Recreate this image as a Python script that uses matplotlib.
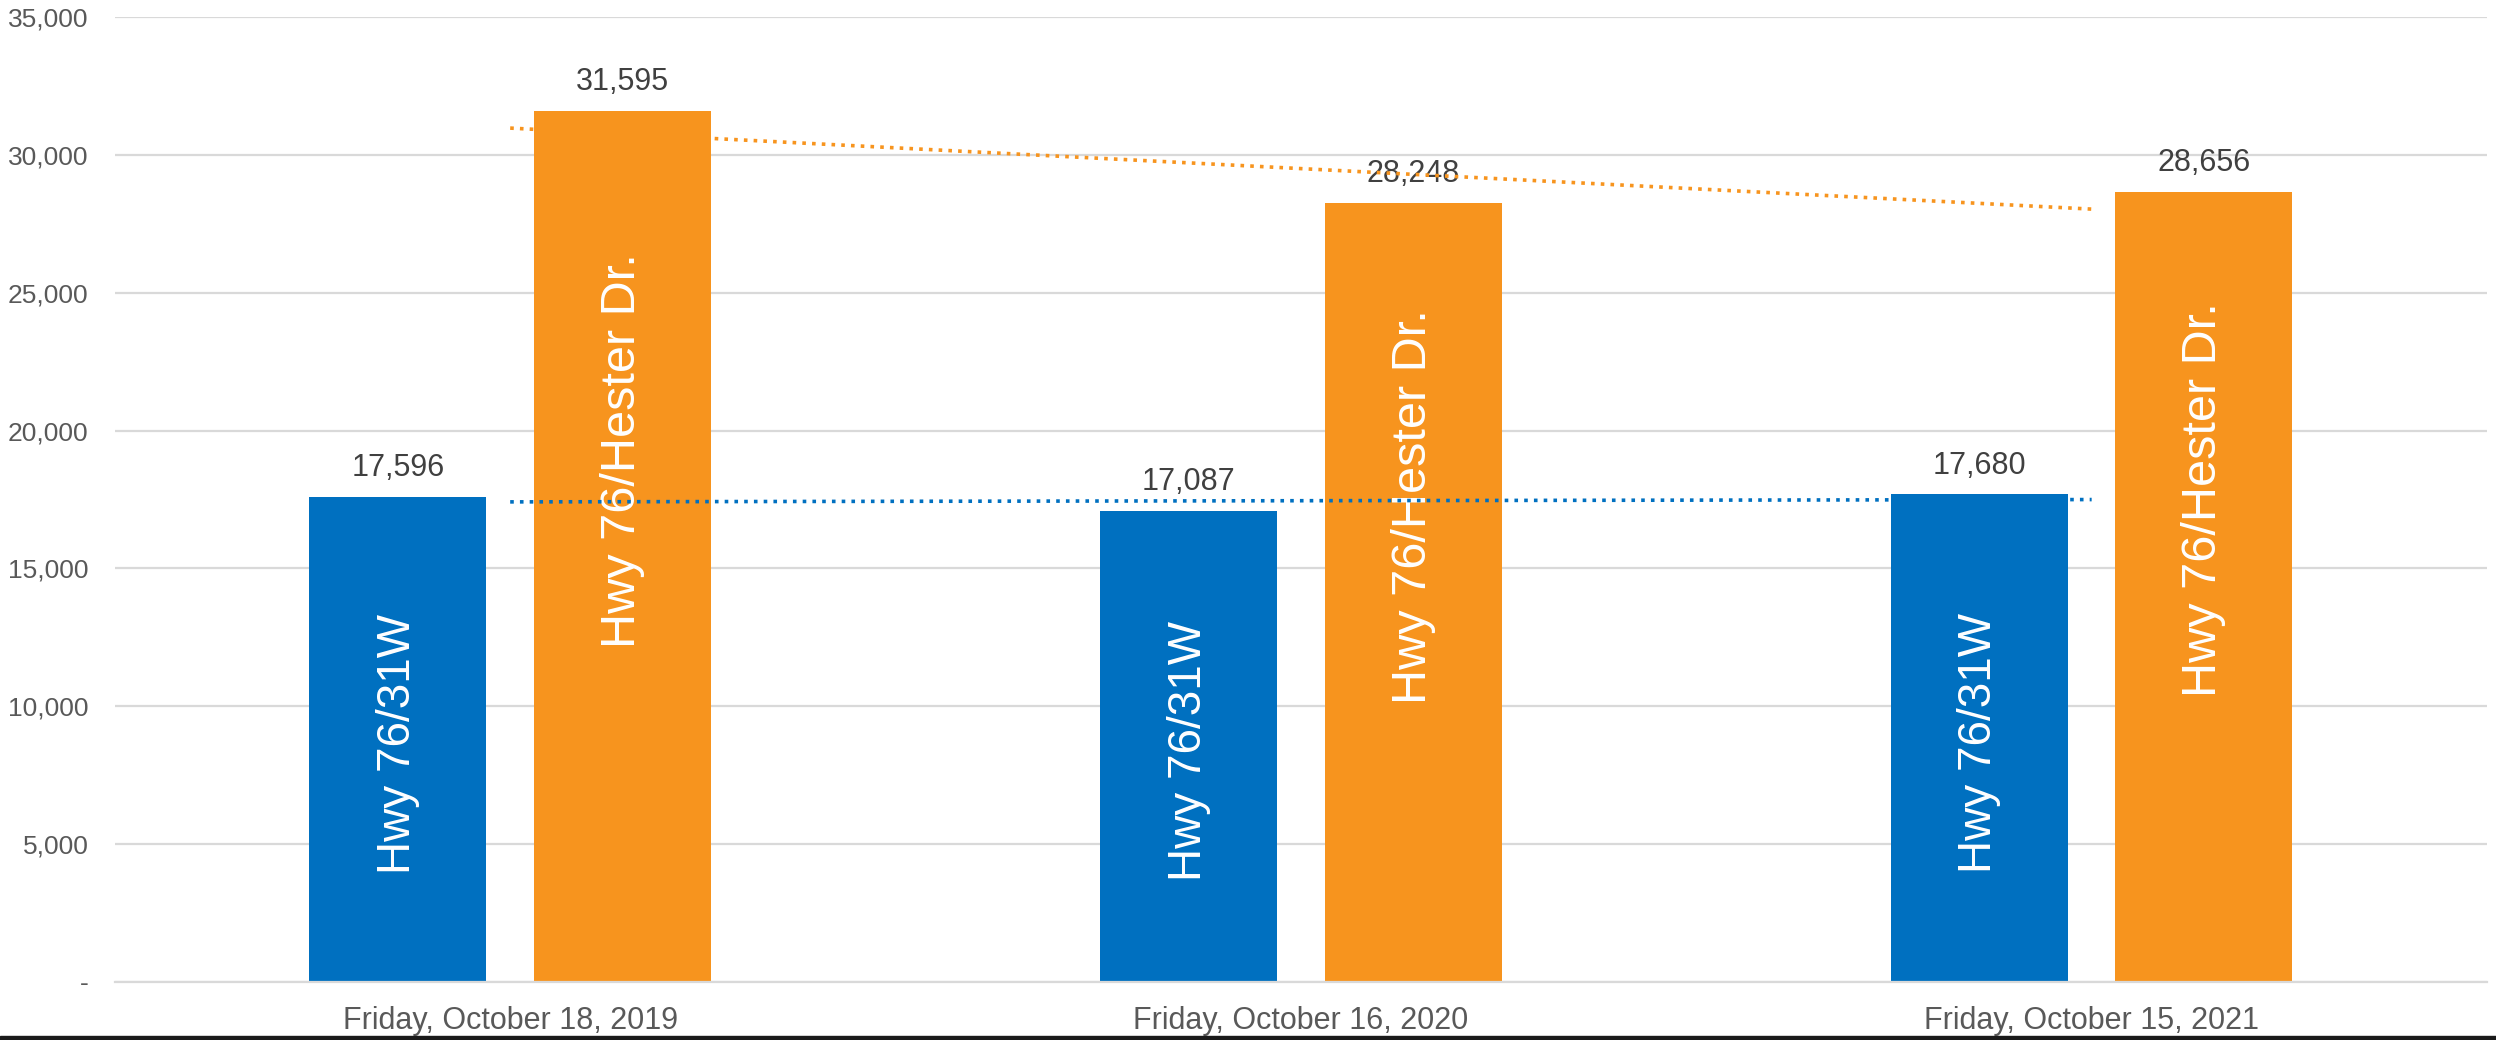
import matplotlib.pyplot as plt
import numpy as np
from matplotlib.ticker import FuncFormatter
from matplotlib.patches import Rectangle

dates = ["Friday, October 18, 2019", "Friday, October 16, 2020", "Friday, October 15, 2021"]
hwy_31w = [17596, 17087, 17680]
hwy_hester = [31595, 28248, 28656]
series_names = ["Hwy 76/31W", "Hwy 76/Hester Dr."]

blue = "#0070C0"
orange = "#F7941E"

plt.rcParams["font.family"] = ["Liberation Sans", "DejaVu Sans"]

fig = plt.figure(figsize=(24.96, 10.4), dpi=100)
ax = fig.add_axes([0.046, 0.0558, 0.9504, 0.9279])

x = np.arange(len(dates))
width = 0.224
offset = 0.142

bars1 = ax.bar(x - offset, hwy_31w, width, color=blue, zorder=2)
bars2 = ax.bar(x + offset, hwy_hester, width, color=orange, zorder=2)

# value labels above bars and series names inside
for bars, vals, name, frac, fs in [(bars1, hwy_31w, series_names[0], 0.49, 33),
                                   (bars2, hwy_hester, series_names[1], 0.61, 35)]:
    for bar, v in zip(bars, vals):
        cx = bar.get_x() + bar.get_width() / 2
        ax.annotate(f"{v:,}", (cx, v), xytext=(0, 10), textcoords="offset points",
                    ha="center", va="bottom", fontsize=22, color="#404040")
        ax.text(cx, v * frac, name, rotation=90, ha="center", va="center",
                fontsize=fs, color="white", zorder=3)

# linear trendlines
for vals, col in [(hwy_31w, blue), (hwy_hester, orange)]:
    k, b = np.polyfit(x, vals, 1)
    ax.plot(x, k * x + b, color=col, lw=2.6, linestyle=(0, (1, 1.7)), zorder=4)

ax.set_xlim(-0.5, 2.5)
ax.set_ylim(0, 35000)
ax.set_yticks(np.arange(0, 35001, 5000))
ax.yaxis.set_major_formatter(FuncFormatter(lambda v, p: "-" if v == 0 else f"{int(v):,}"))
ax.set_xticks(x)
ax.set_xticklabels(dates, fontsize=22, color="#595959")
ax.tick_params(axis="y", labelsize=19, labelcolor="#595959", length=0, pad=19)
ax.tick_params(axis="x", length=0, pad=17)

ax.grid(axis="y", color="#D9D9D9", lw=1.6, zorder=0)
for s in ["top", "right", "left"]:
    ax.spines[s].set_visible(False)
ax.spines["bottom"].set_color("#D9D9D9")
ax.spines["bottom"].set_linewidth(1.6)

# dark border strip at the bottom of the original screenshot
fig.add_artist(Rectangle((0, 0), 1, 0.004, transform=fig.transFigure,
                         color="#1a1a1a", zorder=10))

fig.savefig("out.png", dpi=100, facecolor="white")
